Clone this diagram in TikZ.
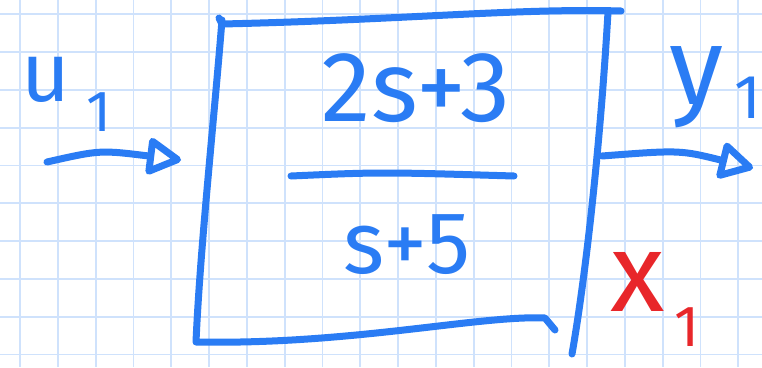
\documentclass[tikz,border=0pt]{standalone}
\usepackage{fontspec}
\setmainfont{Fira Sans}
\usetikzlibrary{arrows.meta,positioning,calc}
\definecolor{skInk}{HTML}{2A7CF4}
\definecolor{skRed}{HTML}{E8262A}
\definecolor{skGrid}{HTML}{CFE2FC}
\tikzset{
  ink/.style={draw=skInk, line width=7pt, line cap=round, line join=round},
  inkR/.style={ink, draw=skRed},
  arr/.style={ink, -{Triangle[open, length=38pt, width=40pt, round]}},
  gridln/.style={draw=skGrid, line width=1.8pt},
  txt/.style={text=skInk, inner sep=0pt},
  txtR/.style={txt, text=skRed},
}

\begin{document}
\begin{tikzpicture}[x=1pt, y=-1pt]
  \useasboundingbox (0,0) rectangle (762,367);
  \fill[white] (0,0) rectangle (762,367);
  % grid paper
  \foreach \k in {0,...,19} \draw[gridln] ({20+37.8*\k},0) -- ++(0,367);
  \foreach \k in {0,...,9} \draw[gridln] (0,{14.2+37.8*\k}) -- ++(762,0);

  % block outline
  \coordinate (bTL) at (222,24);
  \coordinate (bTR) at (621,11);
  \coordinate (bBL) at (196,342);
  \coordinate (bBR) at (572,354);
  \draw[ink] (219,18) -- (bTL) .. controls (400,20) and (520,8) .. (bTR);
  \draw[ink] (222,20) .. controls (214,120) and (200,250) .. (bBL)
             .. controls (350,345) and (480,315) .. (545,318) -- (555,330);
  \draw[ink] (608,12) .. controls (600,150) and (585,280) .. (bBR);

  % transfer function
  \node[txt, font=\fontsize{100}{110}\selectfont] (num) at (416,88) {2s+3};
  \coordinate (barL) at (291,176);
  \coordinate (barR) at (514,176);
  \draw[ink] (barL) .. controls (380,172) .. (barR);
  \node[txt, font=\fontsize{88}{96}\selectfont] (den) at (407,245) {s+5};

  % input
  \node[txt, font=\fontsize{84}{90}\selectfont] (u) at (46,80) {u};
  \node[txt, font=\fontsize{58}{64}\selectfont] (uIdx) at (99,112) {1};
  \coordinate (uStart) at (47,162);
  \coordinate (uTip) at (181,160);
  \draw[arr] (uStart) .. controls (100,150) .. (uTip);

  % output
  \node[txt, font=\fontsize{110}{120}\selectfont] (y) at (697,87) {y};
  \node[txt, font=\fontsize{62}{68}\selectfont] (yIdx) at (748,98) {1};
  \coordinate (yStart) at (602,156);
  \coordinate (yTip) at (753,168);
  \draw[arr] (yStart) .. controls (680,150) .. (yTip);

  % state
  \node[txtR, font=\fontsize{112}{120}\selectfont] (x) at (638,282) {x};
  \node[txtR, font=\fontsize{58}{64}\selectfont] (xIdx) at (687,327) {1};
\end{tikzpicture}
\end{document}
